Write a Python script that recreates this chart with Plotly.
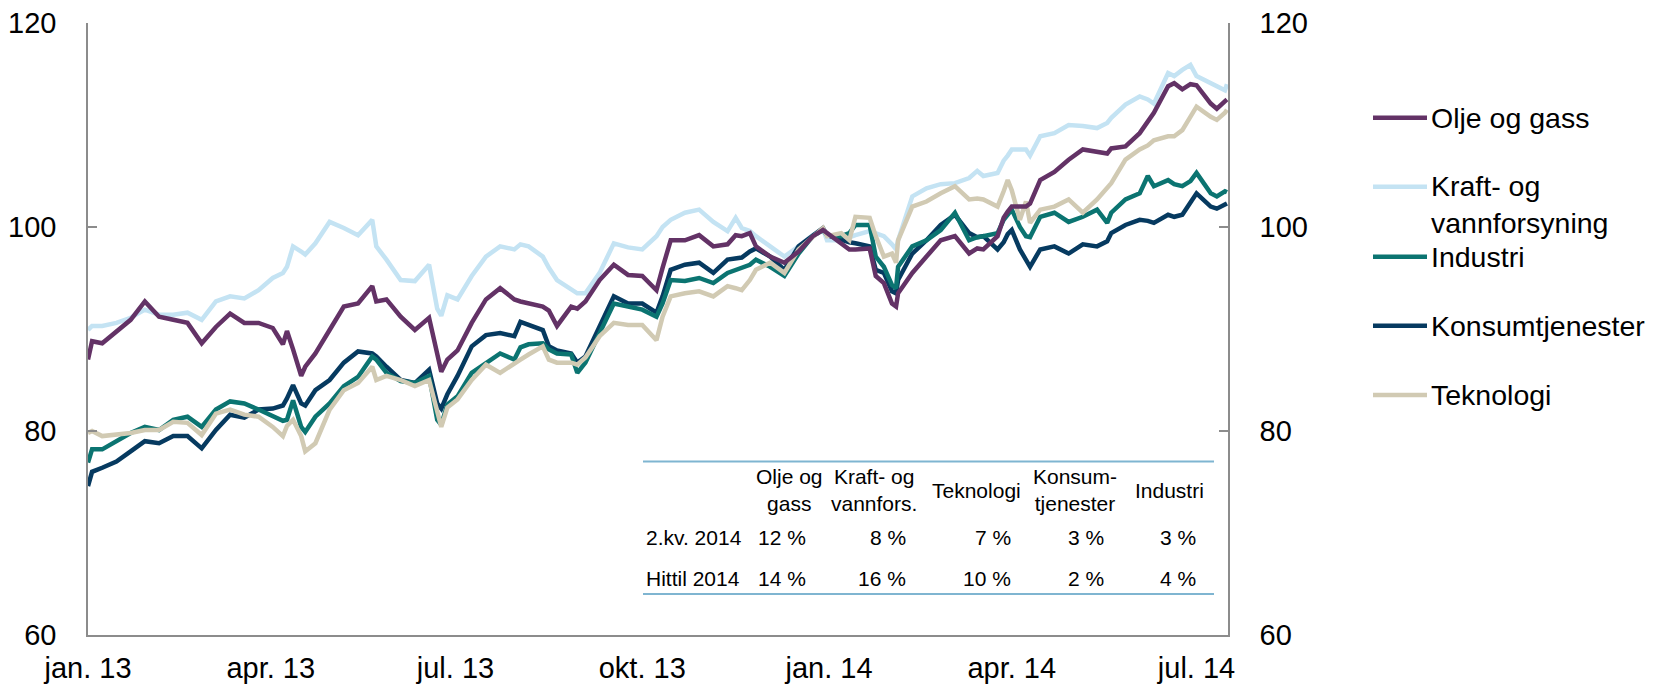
import plotly.graph_objects as go

dates = [
    "2013-01-01", "2013-01-03", "2013-01-08", "2013-01-15", "2013-01-22", "2013-01-29",
    "2013-02-05", "2013-02-12", "2013-02-19", "2013-02-26", "2013-03-05", "2013-03-12",
    "2013-03-19", "2013-03-26", "2013-04-02", "2013-04-07", "2013-04-09", "2013-04-12",
    "2013-04-16", "2013-04-18", "2013-04-23", "2013-04-30", "2013-05-07", "2013-05-14",
    "2013-05-21", "2013-05-23", "2013-05-28", "2013-06-04", "2013-06-11", "2013-06-18",
    "2013-06-22", "2013-06-24", "2013-06-27", "2013-07-02", "2013-07-09", "2013-07-16",
    "2013-07-23", "2013-07-30", "2013-08-02", "2013-08-06", "2013-08-13", "2013-08-16",
    "2013-08-20", "2013-08-27", "2013-08-30", "2013-09-03", "2013-09-10", "2013-09-17",
    "2013-09-24", "2013-10-01", "2013-10-08", "2013-10-11", "2013-10-15", "2013-10-22",
    "2013-10-29", "2013-11-05", "2013-11-12", "2013-11-16", "2013-11-19", "2013-11-23",
    "2013-11-26", "2013-12-03", "2013-12-10", "2013-12-17", "2013-12-24", "2013-12-29",
    "2013-12-31", "2014-01-07", "2014-01-11", "2014-01-14", "2014-01-21", "2014-01-24",
    "2014-01-28", "2014-02-01", "2014-02-03", "2014-02-04", "2014-02-11", "2014-02-18",
    "2014-02-25", "2014-03-04", "2014-03-11", "2014-03-15", "2014-03-18", "2014-03-25",
    "2014-03-28", "2014-03-30", "2014-04-01", "2014-04-05", "2014-04-08", "2014-04-10",
    "2014-04-15", "2014-04-22", "2014-04-29", "2014-05-06", "2014-05-13", "2014-05-18",
    "2014-05-20", "2014-05-27", "2014-06-03", "2014-06-07", "2014-06-10", "2014-06-17",
    "2014-06-20", "2014-06-24", "2014-06-28", "2014-07-01", "2014-07-08", "2014-07-11",
    "2014-07-15", "2014-07-16",
]

olje_og_gass = [
    87.0, 88.8, 88.6, 89.8, 90.9, 92.7, 91.2, 90.9, 90.6, 88.6, 90.2, 91.5,
    90.6, 90.6, 90.1, 88.5, 89.8, 88.0, 85.4, 86.3, 87.6, 89.9, 92.2, 92.5,
    94.2, 92.7, 92.9, 91.2, 89.9, 91.1, 87.3, 85.8, 87.0, 87.9, 90.6, 92.9,
    94.0, 92.9, 92.7, 92.5, 92.2, 91.8, 90.3, 92.2, 92.0, 92.7, 94.8, 96.3,
    95.3, 95.2, 93.8, 96.0, 98.7, 98.7, 99.2, 98.1, 98.3, 99.2, 99.1, 99.4,
    98.1, 97.1, 96.5, 97.6, 99.1, 99.7, 99.4, 98.3, 97.8, 97.8, 97.9, 95.2,
    94.5, 92.5, 92.2, 93.5, 95.5, 97.1, 98.7, 99.1, 97.4, 97.9, 97.8, 99.1,
    100.9, 101.5, 102.0, 102.0, 102.0, 102.3, 104.6, 105.4, 106.6, 107.6, 107.4, 107.2,
    107.7, 107.9, 109.2, 110.3, 111.2, 113.8, 114.1, 113.5, 114.0, 113.9, 112.1, 111.6,
    112.3, 112.5,
]

kraft_og_vann = [
    89.9, 90.3, 90.3, 90.6, 91.1, 91.9, 91.4, 91.4, 91.6, 90.9, 92.7, 93.2,
    93.0, 93.8, 95.0, 95.5, 96.1, 98.1, 97.6, 97.3, 98.4, 100.5, 99.9, 99.2,
    100.7, 98.1, 96.8, 94.8, 94.7, 96.3, 92.0, 91.3, 93.3, 92.9, 95.2, 97.1,
    98.1, 97.8, 98.3, 98.1, 97.1, 96.0, 94.8, 93.8, 93.5, 93.5, 95.5, 98.4,
    98.0, 97.8, 99.1, 100.0, 100.7, 101.4, 101.7, 100.5, 99.6, 100.9, 99.9, 99.6,
    99.1, 98.1, 97.1, 98.1, 99.2, 99.8, 98.7, 98.7, 99.0, 99.2, 99.6, 99.4,
    99.1, 98.3, 97.8, 98.7, 103.0, 103.8, 104.2, 104.3, 104.8, 105.5, 105.0, 105.3,
    106.5, 107.0, 107.6, 107.6, 107.6, 107.0, 108.9, 109.2, 110.0, 109.9, 109.7, 110.2,
    110.7, 112.0, 112.8, 112.5, 112.1, 115.1, 114.8, 115.4, 115.9, 114.8, 114.1, 113.8,
    113.4, 114.0,
]

industri = [
    76.9, 78.2, 78.2, 79.0, 79.8, 80.4, 80.1, 81.1, 81.4, 80.4, 82.1, 82.9,
    82.7, 82.1, 81.4, 81.0, 81.1, 83.0, 80.4, 79.9, 81.4, 82.7, 84.4, 85.3,
    87.3, 87.0, 85.7, 84.9, 84.7, 85.4, 81.1, 80.6, 82.6, 83.4, 85.7, 86.7,
    87.6, 87.0, 88.2, 88.5, 88.6, 88.0, 87.6, 87.5, 85.7, 86.7, 89.6, 92.5,
    92.2, 91.9, 91.2, 92.5, 94.8, 94.7, 95.0, 94.5, 95.5, 95.8, 96.0, 96.3,
    96.8, 96.1, 95.2, 97.4, 99.1, 99.7, 99.2, 99.1, 99.4, 100.2, 100.2, 97.1,
    96.1, 94.3, 94.0, 96.1, 98.1, 98.7, 99.7, 101.4, 98.7, 99.0, 99.1, 99.4,
    100.7, 101.2, 101.7, 100.0, 99.1, 99.0, 101.0, 101.4, 100.5, 101.0, 101.7, 100.4,
    101.4, 102.7, 103.3, 105.0, 104.0, 104.6, 104.2, 104.0, 104.5, 105.3, 103.3, 103.0,
    103.5, 103.4,
]

konsumtjenester = [
    74.6, 76.0, 76.4, 77.0, 78.0, 79.0, 78.8, 79.5, 79.5, 78.3, 80.1, 81.6,
    81.3, 82.1, 82.2, 82.5, 83.2, 84.5, 82.7, 82.5, 84.0, 85.0, 86.7, 87.8,
    87.6, 87.3, 86.3, 85.0, 84.7, 86.0, 82.7, 82.2, 83.6, 85.4, 88.3, 89.4,
    89.6, 89.3, 90.7, 90.4, 89.9, 88.3, 87.9, 87.6, 86.7, 87.3, 90.3, 93.2,
    92.5, 92.5, 91.6, 93.2, 95.8, 96.3, 96.5, 95.5, 96.8, 96.9, 97.0, 97.6,
    97.9, 97.1, 95.8, 98.1, 99.2, 99.9, 99.2, 98.7, 98.5, 98.4, 98.1, 95.8,
    95.5, 93.7, 93.5, 94.8, 97.4, 98.7, 100.2, 101.2, 99.4, 99.0, 99.1, 97.8,
    98.5, 99.3, 99.7, 97.8, 96.8, 96.1, 97.8, 98.1, 97.4, 98.3, 98.1, 98.6,
    99.4, 100.2, 100.7, 100.6, 100.4, 101.2, 101.0, 101.2, 102.4, 103.3, 102.0, 101.8,
    102.2, 102.3,
]

teknologi = [
    79.8, 80.0, 79.5, 79.6, 79.8, 80.1, 80.1, 80.9, 80.8, 79.6, 81.7, 82.1,
    81.6, 81.4, 80.4, 79.5, 80.5, 81.1, 79.5, 78.0, 78.8, 82.1, 84.0, 84.7,
    86.3, 85.0, 85.4, 85.0, 84.4, 85.0, 81.7, 80.4, 82.3, 83.1, 85.0, 86.5,
    85.7, 86.7, 87.0, 87.5, 88.3, 87.0, 86.7, 86.7, 86.5, 87.2, 89.3, 90.6,
    90.4, 90.4, 88.9, 91.2, 93.2, 93.5, 93.7, 93.2, 94.2, 94.0, 93.8, 94.8,
    95.8, 96.5, 95.5, 97.8, 99.1, 99.9, 99.1, 99.4, 98.7, 101.0, 100.9, 99.1,
    97.1, 97.4, 96.5, 98.7, 102.0, 102.5, 103.3, 104.0, 102.7, 102.8, 102.7, 102.0,
    103.5, 104.6, 103.6, 100.7, 102.5, 100.4, 101.7, 102.0, 102.7, 101.4, 102.7, 103.8,
    104.3, 106.6, 107.6, 108.0, 108.5, 108.9, 108.9, 109.5, 110.8, 111.8, 110.8, 110.5,
    111.2, 111.5,
]

series_names = ["Olje og gass", "Kraft- og<br>vannforsyning", "Industri", "Konsumtjenester", "Teknologi"]
series_values = [olje_og_gass, kraft_og_vann, industri, konsumtjenester, teknologi]
series_colors = ["#633266", "#c4e3f3", "#0b7471", "#063a60", "#d1cab3"]
draw_order = [1, 3, 2, 4, 0]

tick_dates = ["2013-01-01", "2013-04-01", "2013-07-01", "2013-10-01",
              "2014-01-01", "2014-04-01", "2014-07-01"]
tick_labels = ["jan. 13", "apr. 13", "jul. 13", "okt. 13", "jan. 14", "apr. 14", "jul. 14"]
y_ticks = [60, 80, 100, 120]

table_cols = ["Olje og<br>gass", "Kraft- og<br>vannfors.", "Teknologi", "Konsum-<br>tjenester", "Industri"]
table_rows = ["2.kv. 2014", "Hittil 2014"]
table_vals = [["12 %", "8 %", "7 %", "3 %", "3 %"],
              ["14 %", "16 %", "10 %", "2 %", "4 %"]]

# the page body has an 8px margin: the figure starts at (8, 8) and runs to the window edge
OFF = 8
W, H = 1655 - OFF, 684 - OFF
ML, MT = 80, 15
PW, PH = 1140, 612
MR, MB = W - ML - PW, H - MT - PH
FONT = "Liberation Sans, Arial, sans-serif"


def px(xs):
    return (xs - OFF - ML) / PW


def py(ys):
    return 1 - (ys - OFF - MT) / PH


fig = go.Figure()
for i in draw_order:
    fig.add_trace(go.Scatter(
        x=dates, y=series_values[i], mode="lines", name=series_names[i],
        line=dict(color=series_colors[i], width=4.5), showlegend=False,
    ))
fig.add_trace(go.Scatter(x=dates, y=teknologi, yaxis="y2", mode="lines",
                         line=dict(width=0, color="rgba(0,0,0,0)"),
                         showlegend=False, hoverinfo="skip"))

axis_col = "#8c8c8c"
common_y = dict(
    range=[60, 120], tickvals=y_ticks, ticks="inside", ticklen=9, tickwidth=1.5,
    tickcolor=axis_col, showgrid=False, zeroline=False, showline=True,
    linecolor=axis_col, linewidth=1.5, tickfont=dict(size=29), ticklabelstandoff=24,
    automargin=False, ticklabeloverflow="allow",
)
fig.update_layout(
    width=W, height=H,
    margin=dict(l=ML, r=MR, t=MT, b=MB, autoexpand=False),
    paper_bgcolor="white", plot_bgcolor="white",
    font=dict(family=FONT, size=29, color="black"),
    xaxis=dict(
        type="date", range=["2013-01-01", "2014-07-16 12:00"],
        tickvals=tick_dates, ticktext=tick_labels, ticks="",
        showgrid=False, zeroline=False, showline=True, linecolor=axis_col, linewidth=1.5,
        tickfont=dict(size=29), ticklabelstandoff=6, automargin=False,
        ticklabeloverflow="allow",
    ),
    yaxis=common_y,
    yaxis2=dict(common_y, overlaying="y", side="right"),
)

shapes = []
annotations = []

# legend drawn by hand (line sample + label)
legend_y = [117.7, 186.7, 256.7, 325.7, 395.0]
for name, col, ly in zip(series_names, series_colors, legend_y):
    shapes.append(dict(type="line", xref="paper", yref="paper",
                       x0=px(1373), x1=px(1427), y0=py(ly), y1=py(ly),
                       line=dict(color=col, width=4.5)))
    two = "<br>" in name
    annotations.append(dict(
        text=name, xref="paper", yref="paper", x=px(1429),
        y=py(ly + 18) if two else py(ly), xanchor="left", yanchor="middle",
        align="left", showarrow=False, font=dict(size=28.5, family=FONT, color="black"),
    ))

# inset table
tcol = "#7fb5d1"
for ly in (461.5, 594.0):
    shapes.append(dict(type="line", xref="paper", yref="paper",
                       x0=px(643), x1=px(1214), y0=py(ly), y1=py(ly),
                       line=dict(color=tcol, width=2)))
head_x = [789, 874, 976, 1075, 1169]
val_x = [808, 908, 1013, 1106, 1198]
row_y = [537.5, 578.0]
tfont = dict(size=21, family=FONT, color="black")
for hx, h in zip(head_x, table_cols):
    annotations.append(dict(text=h, xref="paper", yref="paper", x=px(hx), y=py(490.5),
                            xanchor="center", yanchor="middle", align="center",
                            showarrow=False, font=tfont))
for ry, rl, vals in zip(row_y, table_rows, table_vals):
    annotations.append(dict(text=rl, xref="paper", yref="paper", x=px(644), y=py(ry),
                            xanchor="left", yanchor="middle", showarrow=False, font=tfont))
    for vx, v in zip(val_x, vals):
        annotations.append(dict(text=v, xref="paper", yref="paper", x=px(vx), y=py(ry),
                                xanchor="right", yanchor="middle", showarrow=False, font=tfont))

fig.update_layout(shapes=shapes, annotations=annotations)
fig.write_html("out.html")
